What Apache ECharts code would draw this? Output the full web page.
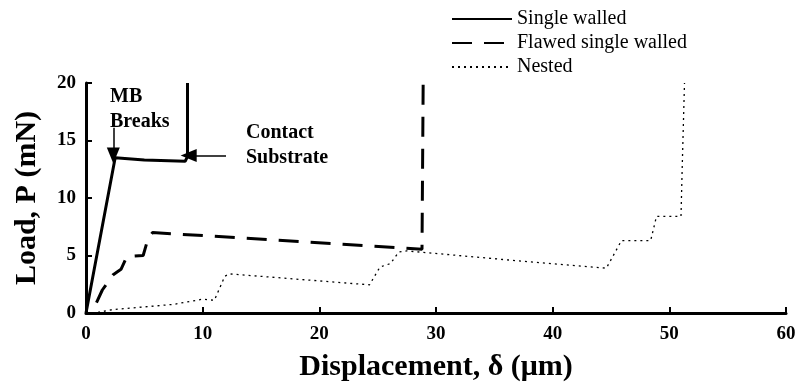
<!DOCTYPE html>
<html>
<head>
<meta charset="utf-8">
<script src="https://cdn.jsdelivr.net/npm/echarts@6/dist/echarts.min.js"></script>
<style>
  html, body { margin: 0; padding: 0; background: #fff; }
  #chart { width: 801px; height: 387px; }
</style>
</head>
<body>
<div id="chart"></div>
<script>
// Load–displacement curves (displacement in µm, load in mN)
const singleX = [0, 2.5, 5.0, 8.5, 8.7, 8.7];
const singleY = [0, 13.5, 13.3, 13.2, 13.6, 20];

const flawedX = [0.9, 1.4, 2.3, 3.0, 3.5, 4.9, 5.3, 5.7, 28.8, 28.9, 28.9];
const flawedY = [0.9, 2.0, 3.3, 3.8, 4.9, 5.0, 6.4, 7.0, 5.55, 5.6, 20];

const nestedX = [0, 1.0, 2.3, 7.5, 10.0, 11.0, 11.9, 12.3, 24.3, 25.2, 26.1, 26.8, 27.5, 38.0, 44.6, 45.9, 48.4, 48.9, 51.0, 51.1, 51.3];
const nestedY = [0, 0.05, 0.3, 0.75, 1.2, 1.1, 3.2, 3.4, 2.45, 4.0, 4.3, 5.3, 5.4, 4.45, 3.9, 6.3, 6.3, 8.4, 8.4, 12.5, 20];

const seriesNames = ['Single walled', 'Flawed single walled', 'Nested'];
const xTicks = { min: 0, max: 60, interval: 10 };
const yTicks = { min: 0, max: 20, interval: 5 };

const pairs = (xs, ys) => xs.map((x, i) => [x, ys[i]]);

const serif = '"Liberation Serif", "Times New Roman", serif';
const chart = echarts.init(document.getElementById('chart'));

const axisCommon = {
  type: 'value',
  axisLine: { show: true, lineStyle: { color: '#000', width: 3 } },
  axisTick: { show: true, inside: true, length: 6, lineStyle: { color: '#000', width: 2 } },
  splitLine: { show: false },
  axisLabel: { color: '#000', fontFamily: serif, fontWeight: 'bold', fontSize: 19 },
  nameLocation: 'middle',
  nameTextStyle: { color: '#000', fontFamily: serif, fontWeight: 'bold', fontSize: 30 }
};

chart.setOption({
  animation: false,
  backgroundColor: '#fff',
  color: ['#000', '#000', '#000'],
  grid: { left: 86, right: 15, top: 83, bottom: 71 },
  legend: {
    orient: 'vertical',
    left: 446,
    top: 4,
    itemWidth: 60,
    itemHeight: 14,
    itemGap: 4,
    itemStyle: { opacity: 0 },
    textStyle: { color: '#000', fontFamily: serif, fontSize: 20 },
    data: seriesNames
  },
  xAxis: Object.assign({}, axisCommon, {
    min: xTicks.min, max: xTicks.max, interval: xTicks.interval,
    name: 'Displacement, δ (μm)',
    nameGap: 39,
    axisLabel: Object.assign({}, axisCommon.axisLabel, { margin: 12 })
  }),
  yAxis: Object.assign({}, axisCommon, {
    min: yTicks.min, max: yTicks.max, interval: yTicks.interval,
    name: 'Load, P (mN)',
    nameGap: 44,
    axisLabel: Object.assign({}, axisCommon.axisLabel, { margin: 10 })
  }),
  series: [
    {
      name: seriesNames[0],
      type: 'line',
      symbol: 'none',
      data: pairs(singleX, singleY),
      itemStyle: { color: '#000' },
      lineStyle: { color: '#000', width: 3 },
      markLine: {
        silent: true,
        symbol: ['none', 'triangle'],
        symbolSize: [13, 16],
        label: { show: false },
        lineStyle: { color: '#000', width: 1.5, type: 'solid' },
        data: [
          [{ coord: [2.34, 16.1] }, { coord: [2.34, 13.7] }],
          [{ coord: [12.0, 13.7] }, { coord: [8.8, 13.7] }]
        ]
      }
    },
    {
      name: seriesNames[1],
      type: 'line',
      symbol: 'none',
      data: pairs(flawedX, flawedY),
      itemStyle: { color: '#000' },
      lineStyle: { color: '#000', width: 3, type: [20, 12] }
    },
    {
      name: seriesNames[2],
      type: 'line',
      symbol: 'none',
      data: pairs(nestedX, nestedY),
      itemStyle: { color: '#000' },
      lineStyle: { color: '#000', width: 1.3, type: [2, 4] }
    }
  ],
  graphic: [
    { type: 'text', left: 110, top: 84, style: { text: 'MB\nBreaks', fill: '#000', font: 'bold 20px ' + serif, lineHeight: 25 } },
    { type: 'text', left: 246, top: 120, style: { text: 'Contact\nSubstrate', fill: '#000', font: 'bold 20px ' + serif, lineHeight: 25 } }
  ]
});
</script>
</body>
</html>
